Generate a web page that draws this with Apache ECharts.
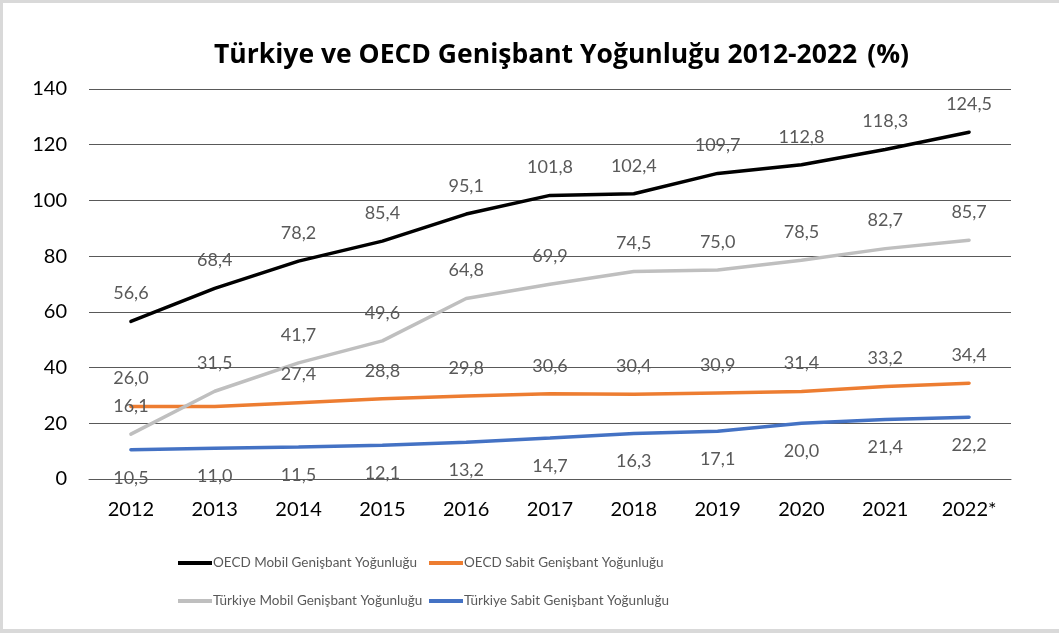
<!DOCTYPE html>
<html>
<head>
<meta charset="utf-8">
<script src="https://cdn.jsdelivr.net/npm/echarts@6/dist/echarts.min.js"></script>
<style>
  html, body { margin: 0; padding: 0; background: #fff; }
  #chart {
    width: 1059px;
    height: 633px;
    box-sizing: border-box;
    border-top: 3px solid #d9d9d9;
    border-left: 3px solid #d9d9d9;
    border-bottom: 4px solid #d9d9d9;
  }
</style>
</head>
<body>
<div id="chart"></div>
<script>
// yıllar
const years = ['2012', '2013', '2014', '2015', '2016', '2017', '2018', '2019', '2020', '2021', '2022*'];
const yTicks = [0, 20, 40, 60, 80, 100, 120, 140];

const oecdMobil = [56.6, 68.4, 78.2, 85.4, 95.1, 101.8, 102.4, 109.7, 112.8, 118.3, 124.5];
const oecdSabit = [26.0, 26.0, 27.4, 28.8, 29.8, 30.6, 30.4, 30.9, 31.4, 33.2, 34.4];
const trMobil = [16.1, 31.5, 41.7, 49.6, 64.8, 69.9, 74.5, 75.0, 78.5, 82.7, 85.7];
const trSabit = [10.5, 11.0, 11.5, 12.1, 13.2, 14.7, 16.3, 17.1, 20.0, 21.4, 22.2];

const FONT = 'Lato';
const fmt = p => Number(p.value).toFixed(1).replace('.', ',');

function lineSeries(name, data, color, pos) {
  return {
    name: name,
    type: 'line',
    data: data,
    symbol: 'circle',
    symbolSize: 0,
    showSymbol: true,
    lineStyle: { color: color, width: 3.5, cap: 'round' },
    itemStyle: { color: color },
    label: {
      show: true,
      position: pos,
      distance: 19,
      formatter: fmt,
      color: '#595959',
      fontFamily: FONT,
      fontSize: 18
    }
  };
}

function legendAt(name, left, top) {
  return {
    data: [name],
    left: left,
    top: top,
    itemWidth: 34,
    itemHeight: 4,
    icon: 'rect',
    selectedMode: false,
    textStyle: { color: '#595959', fontFamily: FONT, fontSize: 13.5, padding: [0, 0, 0, -4] }
  };
}

const chart = echarts.init(document.getElementById('chart'));

chart.setOption({
  animation: false,
  title: {
    text: '{b|Türkiye ve OECD Genişbant Yoğunluğu 2012-2022}  {n|(%)}',
    left: 206,
    top: 34,
    textStyle: {
      rich: {
        b: { fontFamily: 'Open Sans', fontSize: 26.5, fontWeight: 'bold', color: '#000' },
        n: { fontFamily: 'Open Sans', fontSize: 26.5, color: '#000' }
      }
    }
  },
  legend: [
    legendAt('OECD Mobil Genişbant Yoğunluğu', 170, 548),
    legendAt('OECD Sabit Genişbant Yoğunluğu', 421, 548),
    legendAt('Türkiye Mobil Genişbant Yoğunluğu', 170, 586),
    legendAt('Türkiye Sabit Genişbant Yoğunluğu', 421, 586)
  ],
  grid: { left: 86, right: 48, top: 86, bottom: 150 },
  xAxis: {
    type: 'category',
    data: years,
    boundaryGap: true,
    axisLine: { show: true, lineStyle: { color: '#595959', width: 1 } },
    axisTick: { show: false },
    axisLabel: { color: '#000', fontFamily: FONT, fontSize: 20, margin: 21 }
  },
  yAxis: {
    type: 'value',
    min: yTicks[0],
    max: yTicks[yTicks.length - 1],
    interval: 20,
    axisLine: { show: false },
    axisTick: { show: false },
    splitLine: { lineStyle: { color: '#595959', width: 1 } },
    axisLabel: { color: '#000', fontFamily: FONT, fontSize: 20, margin: 22 }
  },
  series: [
    lineSeries('OECD Mobil Genişbant Yoğunluğu', oecdMobil, '#000000', 'top'),
    lineSeries('OECD Sabit Genişbant Yoğunluğu',
      oecdSabit.map((v, i) => i === 1 ? { value: v, label: { show: false } } : v), '#ED7D31', 'top'),
    lineSeries('Türkiye Mobil Genişbant Yoğunluğu', trMobil, '#BFBFBF', 'top'),
    lineSeries('Türkiye Sabit Genişbant Yoğunluğu', trSabit, '#4472C4', 'bottom')
  ]
});
</script>
</body>
</html>
